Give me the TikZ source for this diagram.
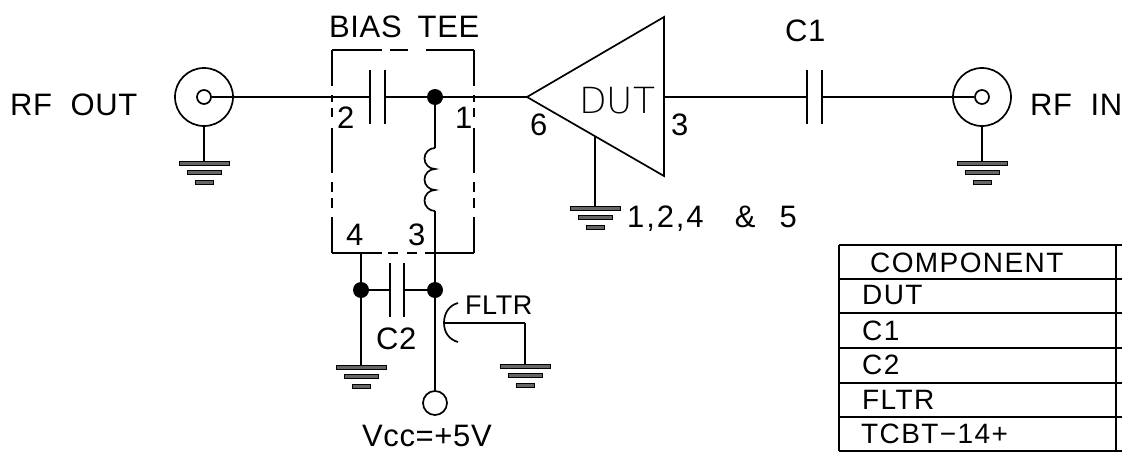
\documentclass[tikz,border=0pt]{standalone}
\usepackage{fontspec}
\setmainfont[LetterSpace=2]{Liberation Sans}
\newfontfamily\thinfont{DejaVu Sans ExtraLight}
\usetikzlibrary{positioning}
\tikzstyle{wire} = [draw,line width=1.7pt]
\tikzstyle{plate} = [draw,line width=1.7pt]
\tikzstyle{dot} = [circle,fill=black,minimum size=16pt,inner sep=0pt]
\tikzstyle{port} = [circle,draw,line width=1.7pt,fill=white,minimum size=14pt,inner sep=0pt]
\tikzstyle{shell} = [circle,draw,line width=1.7pt,minimum size=58pt,inner sep=0pt]
\tikzstyle{bar} = [draw=black,line width=1pt,fill=black!60,minimum height=4pt,inner sep=0pt]
\tikzstyle{lbl} = [font=\fontsize{31}{31}\selectfont,anchor=base west,inner sep=0pt]
\tikzstyle{rowlbl} = [font=\fontsize{28}{28}\selectfont\addfontfeature{LetterSpace=5},anchor=base west,inner sep=0pt]
\tikzstyle{sidedash} = [draw,line width=1.7pt,dash pattern=on 36pt off 9pt on 7pt off 6pt on 9pt off 11pt on 45pt off 9pt on 10pt off 6pt on 10pt off 9pt on 36pt]
\tikzstyle{topdash} = [draw,line width=1.7pt,dash pattern=on 50pt off 8pt on 18pt off 18pt on 48pt]
\tikzstyle{botdash} = [draw,line width=1.7pt,dash pattern=on 50pt off 6pt on 10pt off 9pt on 10pt off 8pt on 49pt]

\begin{document}
\begin{tikzpicture}[x=1pt,y=-1pt]
\useasboundingbox (0,0) rectangle (1122,453);

% First the connectors, junctions and small ports
\foreach \pos/\name in {{(204,97)/rfout}, {(982,97)/rfin}}
\node[shell] (\name) at \pos {};
\foreach \pos/\name in {{(435,97)/j1}, {(361,290)/j2}, {(435,290)/j3}}
\node[dot] (\name) at \pos {};
\foreach \pos/\name in {{(204,97)/rfoutc}, {(982,97)/rfinc}}
\node[port] (\name) at \pos {};
\node[port,minimum size=24pt] (vcc) at (435,403) {};

% Points for the wires
\foreach \pos/\name in {{(370,97)/c3l}, {(385,97)/c3r}, {(527,97)/tip}, {(664,17)/ttop}, {(664,176)/tbot},
	{(664,97)/out}, {(807,97)/c1l}, {(822,97)/c1r}, {(390,290)/c2l}, {(404,290)/c2r},
	{(435,148)/lt}, {(435,211)/lb}, {(361,253)/p4}, {(595,136)/dutg}, {(444,323)/fl}, {(525,323)/fc},
	{(204,163)/g1}, {(982,163)/g2}, {(595,208)/g3}, {(361,367)/g4}, {(525,366)/g5},
	{(332,50)/bnw}, {(474,50)/bne}, {(332,253)/bsw}, {(474,253)/bse}}
\path \pos coordinate (\name);

% Wires between them
\foreach \source/\dest in {rfoutc/c3l, c3r/j1, j1/tip, out/c1l, c1r/rfinc, j1/lt, lb/j3, j3/vcc, p4/j2, j2/g4,
	j2/c2l, c2r/j3, rfout/g1, rfin/g2, dutg/g3, fc/g5, fl/fc}
\path[wire] (\source) -- (\dest);

% Amplifier
\path[wire,line join=miter] (tip) -- (ttop) -- (tbot) -- cycle;

% Capacitor plates
\foreach \name in {c3l,c3r,c1l,c1r,c2l,c2r}
\path[plate] (\name) ++(0,-27) -- ++(0,54);

% Coil
\path[wire] (lt) arc (-90:-270:10.5) arc (-90:-270:10.5) arc (-90:-270:10.5);

% FLTR feed-through
\path[wire] (458,303) to[out=195,in=90] (444,323) to[out=-90,in=165] (458,342);

% Bias tee outline
\path[sidedash] (bnw) -- (bsw);
\path[sidedash] (bne) -- (bse);
\path[topdash] (bnw) -- (bne);
\path[botdash] (bsw) -- (bse);

% Ground symbols
\foreach \name in {g1,g2,g3,g4,g5}{
	\node[bar,minimum width=50pt] (\name a) at (\name) {};
	\node[bar,minimum width=34pt,below=4.6pt of \name a] (\name b) {};
	\node[bar,minimum width=18pt,below=4.6pt of \name b] (\name c) {};
}

% Labels
\foreach \pos/\name/\txt in {{(10,115)/lout/RF\ \ OUT}, {(1030,115)/lin/RF\ \ IN}, {(329,37)/ltee/BIAS\hspace{16pt}TEE},
	{(785,41)/lc1/C1}, {(337,128)/l2/2}, {(455,128)/l1/1}, {(530,135)/l6/6}, {(671,135)/l3/3},
	{(346,245)/l4/4}, {(408,245)/l5/3}, {(376,349)/lc2/C2}, {(362,446)/lv/Vcc=+5V}}
\node[lbl] (\name) at \pos {\txt};
\node[lbl,font=\fontsize{31}{31}\selectfont\addfontfeature{LetterSpace=6}] (lg) at (627,227) {1,2,4\ \ \ \&\ \ \hspace{3pt}5};
\node[lbl,font=\fontsize{27}{27}\selectfont] (lf) at (465,314) {FLTR};
\node[lbl,font=\fontsize{36}{36}\thinfont] (ldut) at (579,113) {DUT};

% Parts table
\foreach \y/\name in {245/t0, 279/t1, 313/t2, 348/t3, 383/t4, 417/t5, 451/t6}{
	\coordinate (\name w) at (839,\y);
	\coordinate (\name e) at (1122,\y);
	\coordinate (\name m) at (1116,\y);
	\path[wire] (\name w) -- (\name e);
}
\path[wire] (t0w) -- (t6w);
\path[wire] (t0m) -- (t6m);
\foreach \pos/\name/\txt in {{(870,272)/r0/COMPONENT}, {(862,304)/r1/DUT}, {(862,340)/r2/C1}, {(862,374)/r3/C2},
	{(862,409)/r4/FLTR}, {(861,443)/r5/TCBT−14+}}
\node[rowlbl] (\name) at \pos {\txt};
\end{tikzpicture}
\end{document}
